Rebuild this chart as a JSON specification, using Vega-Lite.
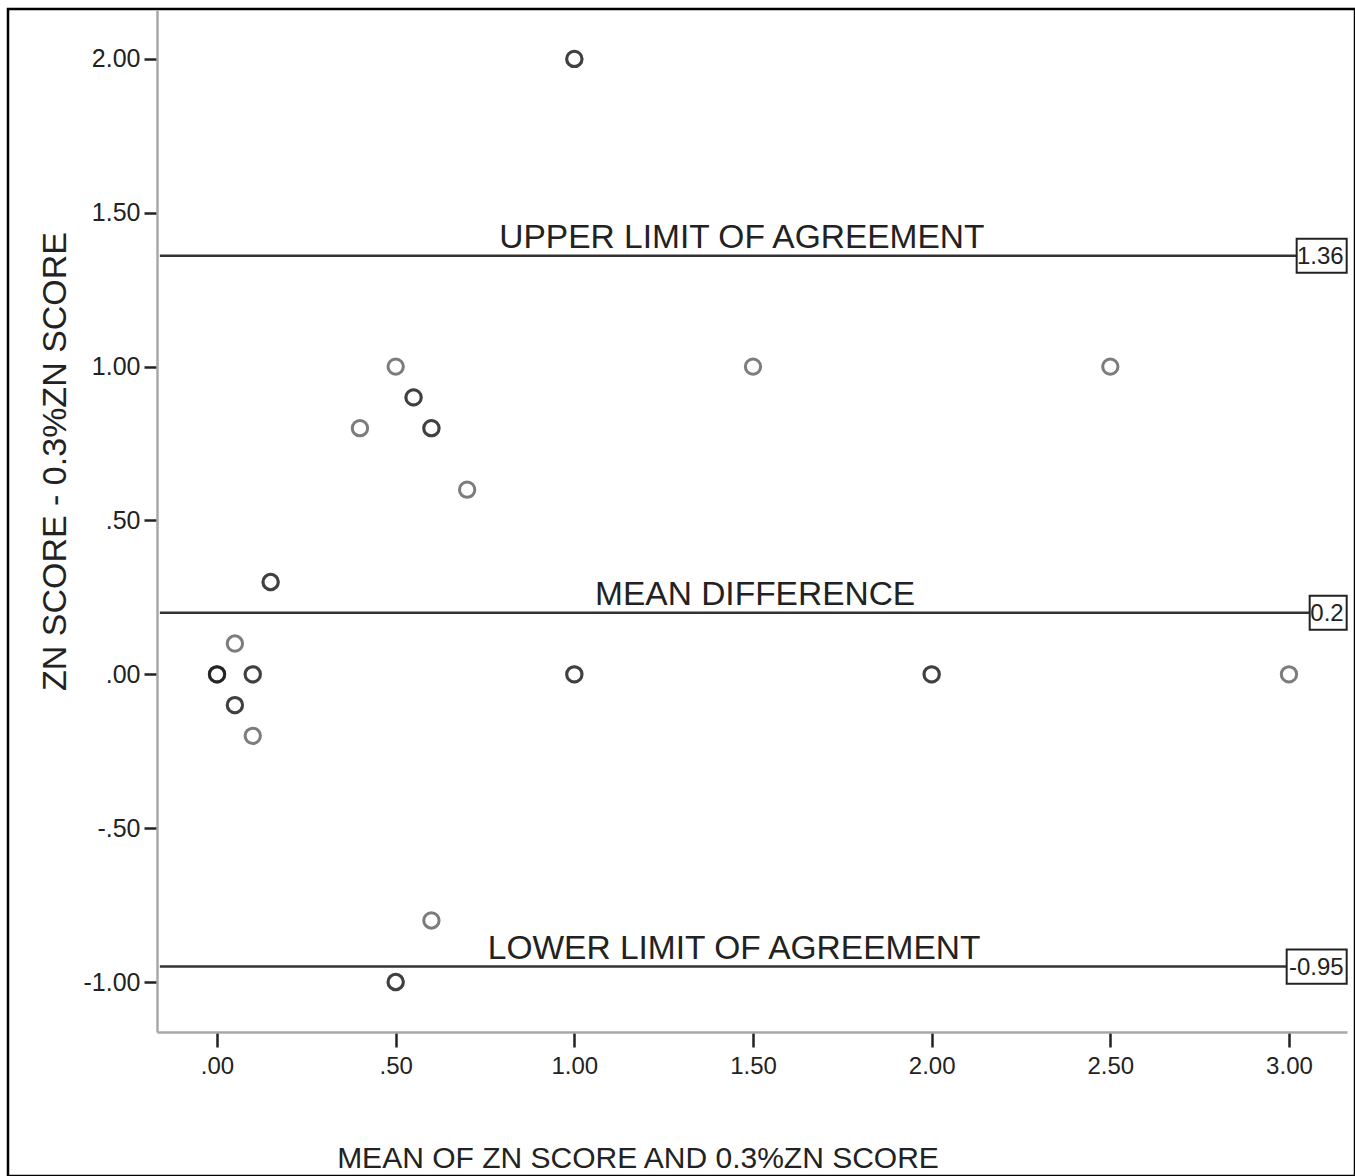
{
  "$schema": "https://vega.github.io/schema/vega-lite/v6.json",
  "width": 1347,
  "height": 1167,
  "autosize": "none",
  "padding": {"left": 8, "top": 9, "right": 0, "bottom": 0},
  "background": "white",
  "config": {
    "view": {"stroke": "#000", "strokeWidth": 2.5},
    "font": "Liberation Sans"
  },
  "datasets": {
    "points": [
      {"x": 1, "y": 2}, {"x": 1, "y": 2},
      {"x": 0.5, "y": 1},
      {"x": 1.5, "y": 1},
      {"x": 2.5, "y": 1},
      {"x": 0.55, "y": 0.9}, {"x": 0.55, "y": 0.9},
      {"x": 0.4, "y": 0.8},
      {"x": 0.6, "y": 0.8}, {"x": 0.6, "y": 0.8},
      {"x": 0.7, "y": 0.6},
      {"x": 0.15, "y": 0.3}, {"x": 0.15, "y": 0.3},
      {"x": 0.05, "y": 0.1},
      {"x": 0, "y": 0}, {"x": 0, "y": 0}, {"x": 0, "y": 0},
      {"x": 0.1, "y": 0}, {"x": 0.1, "y": 0},
      {"x": 1, "y": 0}, {"x": 1, "y": 0},
      {"x": 2, "y": 0}, {"x": 2, "y": 0},
      {"x": 3, "y": 0},
      {"x": 0.05, "y": -0.1}, {"x": 0.05, "y": -0.1},
      {"x": 0.1, "y": -0.2},
      {"x": 0.6, "y": -0.8},
      {"x": 0.5, "y": -1}, {"x": 0.5, "y": -1}
    ],
    "lines": [
      {"name": "UPPER LIMIT OF AGREEMENT", "value": 1.36, "label": "1.36", "pos": 1.469},
      {"name": "MEAN DIFFERENCE", "value": 0.2, "label": "0.2", "pos": 1.506},
      {"name": "LOWER LIMIT OF AGREEMENT", "value": -0.95, "label": "-0.95", "pos": 1.447}
    ]
  },
  "layer": [
    {
      "data": {"name": "lines"},
      "mark": {"type": "rule", "color": "#333", "strokeWidth": 2.5},
      "encoding": {
        "y": {"field": "value", "type": "quantitative"},
        "x": {"datum": -0.16, "type": "quantitative"},
        "x2": {"datum": 3.15}
      }
    },
    {
      "data": {"name": "points"},
      "mark": {"type": "point", "shape": "circle", "filled": false, "size": 235, "strokeWidth": 3, "color": "#111", "strokeOpacity": 0.78},
      "encoding": {
        "x": {
          "field": "x", "type": "quantitative",
          "scale": {"domain": [-0.168, 3.1624], "range": [149, 1339], "nice": false, "zero": false},
          "axis": {
            "values": [0, 0.5, 1, 1.5, 2, 2.5, 3],
            "labelExpr": "replace(replace(format(datum.value,'.2f'), '\u2212', '-'), regexp('^(-?)0[.]'), '$1.')",
            "offset": -144,
            "grid": false,
            "domainColor": "#a8a8a8", "domainWidth": 2.5,
            "tickColor": "#222", "tickWidth": 2.5, "tickSize": 15,
            "labelPadding": 7, "labelFontSize": 24, "labelColor": "#222", "labelFont": "Liberation Sans",
            "labelFlush": false, "labelOverlap": false,
            "title": "MEAN OF ZN SCORE AND 0.3%ZN SCORE",
            "titleFontSize": 30, "titleFontWeight": "normal", "titleColor": "#222", "titleFont": "Liberation Sans",
            "titleX": 629.5, "titleY": 135, "titleBaseline": "alphabetic", "titleAlign": "center"
          }
        },
        "y": {
          "field": "y", "type": "quantitative",
          "scale": {"domain": [-1.1625, 2.159], "range": [1023, 1], "nice": false, "zero": false},
          "axis": {
            "values": [-1, -0.5, 0, 0.5, 1, 1.5, 2],
            "labelExpr": "replace(replace(format(datum.value,'.2f'), '\u2212', '-'), regexp('^(-?)0[.]'), '$1.')",
            "offset": -149,
            "grid": false,
            "domainColor": "#a8a8a8", "domainWidth": 2.5,
            "tickColor": "#222", "tickWidth": 2.5, "tickSize": 13,
            "labelPadding": 4, "labelFontSize": 25, "labelColor": "#222", "labelFont": "Liberation Sans",
            "labelFlush": false, "labelOverlap": false,
            "title": "ZN SCORE - 0.3%ZN SCORE",
            "titleFontSize": 34, "titleFontWeight": "normal", "titleColor": "#222", "titleFont": "Liberation Sans",
            "titleAngle": 270, "titleX": -92, "titleY": 452, "titleBaseline": "alphabetic", "titleAlign": "center"
          }
        }
      }
    },
    {
      "data": {"name": "lines"},
      "mark": {"type": "text", "align": "center", "baseline": "alphabetic", "dy": -8, "fontSize": 33.5, "color": "#222", "font": "Liberation Sans"},
      "encoding": {
        "x": {"field": "pos", "type": "quantitative"},
        "y": {"field": "value", "type": "quantitative"},
        "text": {"field": "name"}
      }
    },
    {
      "data": {"name": "lines"},
      "mark": {"type": "point", "filled": true, "fill": "white", "stroke": "#222", "strokeWidth": 2, "size": 3600, "opacity": 1},
      "encoding": {
        "x": {"datum": 3.1615, "type": "quantitative"},
        "y": {"field": "value", "type": "quantitative"},
        "shape": {
          "field": "label", "type": "nominal",
          "scale": {
            "domain": ["1.36", "0.2", "-0.95"],
            "range": ["M-1.667,-0.567H0V0.567H-1.667Z", "M-1.233,-0.567H0V0.567H-1.233Z", "M-2,-0.567H0V0.567H-2Z"]
          },
          "legend": null
        }
      }
    },
    {
      "data": {"name": "lines"},
      "mark": {"type": "text", "align": "right", "baseline": "middle", "dx": -3, "dy": 1, "fontSize": 24, "color": "#222", "font": "Liberation Sans"},
      "encoding": {
        "x": {"datum": 3.1615, "type": "quantitative"},
        "y": {"field": "value", "type": "quantitative"},
        "text": {"field": "label"}
      }
    }
  ]
}
